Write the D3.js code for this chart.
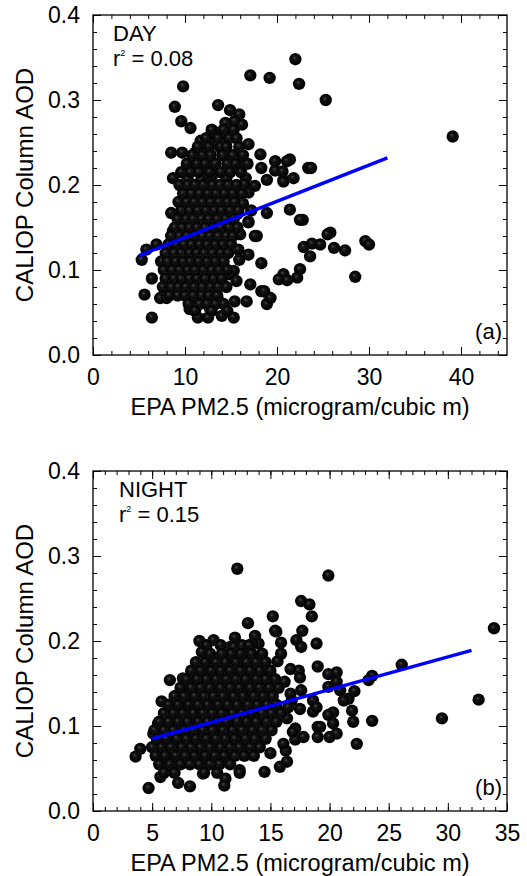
<!DOCTYPE html>
<meta charset="utf-8">
<body style="margin:0;background-color:white;">
<svg width="527" height="876"></svg>
<script src="https://d3js.org/d3.v7.min.js"></script>
<script>

// y ticks shared by both panels
var aodTicks = [0.0, 0.1, 0.2, 0.3, 0.4];
var dayPmTicks = [0, 10, 20, 30, 40];
var nightPmTicks = [0, 5, 10, 15, 20, 25, 30, 35];

// regression lines [pm, aod] at the two ends
var dayFit = [[5.0, 0.117], [32.0, 0.232]];
var nightFit = [[5.0, 0.085], [32.0, 0.189]];

var dayR2 = "0.08";
var nightR2 = "0.15";

// DAY points [pm2.5, aod]  -- outliers and edges
var dayOuter = [
 [22.0,0.348],[17.1,0.329],[19.2,0.326],[22.4,0.319],[9.8,0.316],[8.9,0.292],[13.6,0.294],[14.9,0.288],[15.9,0.283],
 [9.6,0.275],[10.6,0.267],[14.4,0.273],[15.4,0.275],[16.2,0.271],[13.1,0.263],[11.7,0.252],[13.5,0.257],[14.9,0.259],
 [8.5,0.238],[9.7,0.238],[11.1,0.238],[11.3,0.224],[12.7,0.248],[13.8,0.244],[16.9,0.248],[18.2,0.236],[19.8,0.228],
 [21.4,0.230],[12.6,0.226],[16.0,0.222],[18.3,0.220],[19.8,0.217],[21.8,0.208],[8.7,0.208],[10.3,0.206],[11.8,0.206],
 [12.9,0.209],[14.5,0.208],[16.6,0.208],[18.9,0.206],[20.7,0.206],[16.9,0.191],[17.6,0.199],
 [39.1,0.257],[25.3,0.300],[23.4,0.220],[21.1,0.228],[23.7,0.220],[20.6,0.216],[20.7,0.204],[21.4,0.171],[22.8,0.159],
 [25.8,0.144],[25.5,0.142],[22.9,0.127],[23.8,0.131],[24.7,0.130],[26.2,0.126],[27.4,0.123],[23.6,0.116],[29.6,0.134],
 [30.0,0.130],[28.5,0.092],[20.7,0.095],[21.1,0.088],[22.2,0.091],[22.5,0.101],
 [5.3,0.112],[5.8,0.124],[6.9,0.130],[8.5,0.167],[8.7,0.146],[6.4,0.090],[5.6,0.071],[6.4,0.044],[7.4,0.110],[7.3,0.067],
 [8.0,0.067],[10.5,0.054],[11.4,0.044],[12.5,0.044],[14.0,0.046],[15.3,0.044],[12.0,0.067],[12.7,0.055],[13.6,0.065],
 [15.4,0.063],[16.7,0.063],[17.1,0.083],[18.3,0.075],[19.2,0.067],[18.9,0.060],[20.2,0.089],[15.6,0.087],[15.3,0.099],
 [14.8,0.095],[13.4,0.093],[18.3,0.108],[16.9,0.118],[16.9,0.157],[17.8,0.140],[18.9,0.167],[22.5,0.159],[17.6,0.140],
 [16.9,0.156],[8.4,0.130],[7.5,0.110],[18.6,0.075],[19.3,0.067],
 [16.3,0.178],[16.0,0.142],[15.9,0.112],[16.5,0.201],[15.8,0.124],[16.1,0.232],[15.7,0.166]
];

// DAY dense cluster
var dayCore = [
 [12.9,0.265],[14.2,0.265],[15.3,0.265],
 [12.3,0.255],[13.6,0.255],[14.8,0.255],[15.6,0.255],
 [11.4,0.245],[12.6,0.245],[13.9,0.245],[14.5,0.245],[15.9,0.245],
 [10.8,0.235],[11.9,0.235],[12.8,0.235],[14.1,0.235],[15.2,0.235],[16.3,0.235],
 [10.2,0.225],[11.3,0.225],[12.2,0.225],[13.3,0.225],[14.6,0.225],[15.5,0.225],[16.8,0.225],
 [9.6,0.215],[10.6,0.215],[11.5,0.215],[12.7,0.215],[13.9,0.215],[14.9,0.215],[16.1,0.215],
 [9.4,0.200],[10.3,0.200],[11.1,0.200],[12.0,0.200],[13.0,0.200],[13.8,0.200],[14.7,0.200],[15.6,0.200],
 [9.8,0.190],[10.7,0.190],[11.6,0.190],[12.5,0.190],[13.4,0.190],[14.3,0.190],[15.2,0.190],[16.2,0.190],
 [9.3,0.180],[10.2,0.180],[11.0,0.180],[11.9,0.180],[12.8,0.180],[13.7,0.180],[14.6,0.180],[15.4,0.180],
 [9.6,0.170],[10.5,0.170],[11.4,0.170],[12.3,0.170],[13.2,0.170],[14.0,0.170],[14.9,0.170],[15.8,0.170],[17.2,0.170],
 [9.2,0.160],[10.1,0.160],[10.9,0.160],[11.8,0.160],[12.6,0.160],[13.5,0.160],[14.4,0.160],[15.3,0.160],
 [8.9,0.150],[9.7,0.150],[10.5,0.150],[11.3,0.150],[12.2,0.150],[13.1,0.150],[13.9,0.150],[14.8,0.150],[15.7,0.150],
 [8.5,0.140],[9.4,0.140],[10.2,0.140],[11.0,0.140],[11.9,0.140],[12.7,0.140],[13.6,0.140],[14.5,0.140],[15.2,0.140],
 [8.2,0.130],[9.1,0.130],[9.9,0.130],[10.7,0.130],[11.6,0.130],[12.4,0.130],[13.3,0.130],[14.1,0.130],[15.0,0.130],
 [7.9,0.120],[8.8,0.120],[9.6,0.120],[10.5,0.120],[11.3,0.120],[12.1,0.120],[13.0,0.120],[13.9,0.120],[14.7,0.120],
 [8.1,0.110],[9.0,0.110],[9.8,0.110],[10.6,0.110],[11.5,0.110],[12.4,0.110],[13.3,0.110],[14.2,0.110],
 [7.7,0.100],[8.6,0.100],[9.4,0.100],[10.3,0.100],[11.1,0.100],[12.0,0.100],[12.9,0.100],[13.7,0.100],[14.6,0.100],
 [7.9,0.090],[8.8,0.090],[9.6,0.090],[10.5,0.090],[11.3,0.090],[12.2,0.090],[13.1,0.090],[14.0,0.090],
 [7.6,0.080],[8.5,0.080],[9.3,0.080],[10.1,0.080],[11.0,0.080],[11.9,0.080],[12.8,0.080],[13.6,0.080],[14.5,0.080],
 [8.3,0.070],[9.2,0.070],[10.0,0.070],[10.9,0.070],[11.8,0.070],[12.6,0.070],[13.5,0.070],
 [10.4,0.060],[11.6,0.060],[12.4,0.060],[13.3,0.060],[14.2,0.060],
 [11.1,0.052],[12.9,0.052],[14.6,0.052]
];

// NIGHT points -- outliers and edges
var nightOuter = [
 [12.2,0.285],[19.9,0.277],[33.9,0.215],[17.6,0.247],[18.3,0.243],[18.5,0.229],[15.2,0.229],[13.1,0.221],[17.7,0.212],
 [15.5,0.211],[12.0,0.204],[13.7,0.206],[9.0,0.200],[10.2,0.201],[11.6,0.193],[15.9,0.198],[17.2,0.201],[18.9,0.197],
 [14.0,0.197],[17.6,0.193],[19.0,0.170],[17.4,0.165],[26.1,0.172],[19.9,0.161],[20.6,0.163],[20.6,0.152],[23.6,0.159],
 [23.3,0.154],[22.1,0.141],[21.6,0.132],[21.9,0.118],[22.0,0.105],[23.6,0.106],[22.3,0.079],[29.5,0.109],[32.6,0.131],
 [20.3,0.116],[20.3,0.103],[20.6,0.091],[20.0,0.087],[19.0,0.099],[19.0,0.087],[17.8,0.087],[17.1,0.097],[17.1,0.084],
 [21.2,0.130],[20.9,0.142],[19.9,0.146],[18.6,0.130],[17.6,0.142],[17.5,0.120],[18.6,0.117],[16.8,0.130],[17.5,0.157],
 [9.2,0.187],[11.9,0.193],[15.9,0.185],[16.7,0.167],[6.5,0.154],[7.6,0.156],[7.4,0.140],[5.8,0.129],[6.8,0.116],
 [5.5,0.103],[5.1,0.091],[4.0,0.073],[3.6,0.064],[4.7,0.027],[5.7,0.040],[7.2,0.033],[8.2,0.029],[6.5,0.048],[9.3,0.044],
 [11.2,0.038],[11.1,0.030],[12.4,0.048],[14.5,0.046],[15.8,0.052],[16.4,0.058],[15.0,0.068],[16.3,0.071],[19.2,0.099],
 [19.9,0.113],[18.9,0.122],[16.7,0.138],[16.9,0.093],[16.1,0.079],[6.3,0.052],[13.5,0.197],[15.4,0.212],
 [16.4,0.109],[16.2,0.152],[15.6,0.176],[16.5,0.122]
];

// NIGHT dense cluster
var nightCore = [
 [9.6,0.195],[10.8,0.195],[12.6,0.195],[13.2,0.195],
 [9.9,0.185],[10.9,0.185],[11.7,0.185],[12.5,0.185],[13.4,0.185],[14.3,0.185],
 [8.7,0.175],[9.5,0.175],[10.4,0.175],[11.2,0.175],[12.1,0.175],[13.0,0.175],[13.8,0.175],[14.6,0.175],
 [8.3,0.165],[9.1,0.165],[10.0,0.165],[10.8,0.165],[11.6,0.165],[12.5,0.165],[13.3,0.165],[14.1,0.165],[15.0,0.165],
 [7.9,0.155],[8.8,0.155],[9.6,0.155],[10.4,0.155],[11.3,0.155],[12.1,0.155],[12.9,0.155],[13.8,0.155],[14.6,0.155],[15.4,0.155],
 [7.4,0.145],[8.3,0.145],[9.1,0.145],[9.9,0.145],[10.8,0.145],[11.6,0.145],[12.4,0.145],[13.3,0.145],[14.1,0.145],[14.9,0.145],[15.7,0.145],
 [6.9,0.135],[7.7,0.135],[8.6,0.135],[9.4,0.135],[10.2,0.135],[11.0,0.135],[11.9,0.135],[12.7,0.135],[13.6,0.135],[14.4,0.135],[15.2,0.135],
 [6.4,0.125],[7.2,0.125],[8.1,0.125],[8.9,0.125],[9.7,0.125],[10.6,0.125],[11.4,0.125],[12.2,0.125],[13.1,0.125],[13.9,0.125],[14.7,0.125],[15.5,0.125],
 [6.0,0.115],[6.8,0.115],[7.6,0.115],[8.5,0.115],[9.3,0.115],[10.1,0.115],[10.9,0.115],[11.8,0.115],[12.6,0.115],[13.4,0.115],[14.3,0.115],[15.1,0.115],[15.9,0.115],
 [5.6,0.105],[6.4,0.105],[7.2,0.105],[8.0,0.105],[8.9,0.105],[9.7,0.105],[10.5,0.105],[11.3,0.105],[12.2,0.105],[13.0,0.105],[13.8,0.105],[14.7,0.105],[15.5,0.105],
 [5.2,0.095],[6.0,0.095],[6.8,0.095],[7.7,0.095],[8.5,0.095],[9.3,0.095],[10.1,0.095],[11.0,0.095],[11.8,0.095],[12.6,0.095],[13.5,0.095],[14.3,0.095],[15.1,0.095],
 [5.4,0.085],[6.2,0.085],[7.1,0.085],[7.9,0.085],[8.7,0.085],[9.6,0.085],[10.4,0.085],[11.2,0.085],[12.0,0.085],[12.9,0.085],[13.7,0.085],[14.6,0.085],
 [5.0,0.075],[5.8,0.075],[6.6,0.075],[7.5,0.075],[8.3,0.075],[9.1,0.075],[9.9,0.075],[10.8,0.075],[11.6,0.075],[12.4,0.075],[13.3,0.075],[14.1,0.075],
 [5.3,0.065],[6.1,0.065],[7.0,0.065],[7.8,0.065],[8.6,0.065],[9.5,0.065],[10.3,0.065],[11.1,0.065],[12.0,0.065],[12.8,0.065],[13.6,0.065],
 [5.6,0.055],[6.5,0.055],[7.4,0.055],[8.2,0.055],[9.0,0.055],[9.9,0.055],[10.7,0.055],[11.6,0.055],
 [6.0,0.045],[6.9,0.045],[9.4,0.045],[10.5,0.045],[12.4,0.045]
];

var svg = d3.select("svg");
var font = "'Liberation Sans', Arial, Helvetica, sans-serif";

var defs = svg.append("defs");
var grad = defs.append("radialGradient").attr("id", "ball")
	.attr("cx", "50%").attr("cy", "50%").attr("r", "50%")
	.attr("fx", "40%").attr("fy", "36%");
grad.append("stop").attr("offset", "0%").attr("stop-color", "#4a4a4a");
grad.append("stop").attr("offset", "30%").attr("stop-color", "#141414");
grad.append("stop").attr("offset", "90%").attr("stop-color", "#000");
grad.append("stop").attr("offset", "100%").attr("stop-color", "#2a2a2a");

var panels = [
	{pts: dayOuter.concat(dayCore), fit: dayFit, xMax: 45, xTicks: dayPmTicks, xMinor: 2,
	 name: "DAY", r2: dayR2, tag: "(a)", top: 15, bottom: 355, nameX: 113},
	{pts: nightOuter.concat(nightCore), fit: nightFit, xMax: 35, xTicks: nightPmTicks, xMinor: 1,
	 name: "NIGHT", r2: nightR2, tag: "(b)", top: 471, bottom: 811, nameX: 119}
];

var left = 93, right = 507;

panels.forEach(function(p) {
	var x = d3.scaleLinear().domain([0, p.xMax]).range([left, right]);
	var y = d3.scaleLinear().domain([0, 0.4]).range([p.bottom, p.top]);
	var g = svg.append("g");

	// points
	g.append("g").selectAll("circle").data(p.pts).enter().append("circle")
		.attr("cx", function(d) { return x(d[0]); })
		.attr("cy", function(d) { return y(d[1]); })
		.attr("r", 6.2)
		.attr("fill", "url(#ball)");

	// fit line
	g.append("line")
		.attr("x1", x(p.fit[0][0])).attr("y1", y(p.fit[0][1]))
		.attr("x2", x(p.fit[1][0])).attr("y2", y(p.fit[1][1]))
		.attr("stroke", "#0000ff").attr("stroke-width", 3.5);

	// axes: major + minor ticks on all four sides, pointing inward
	var xMinorTicks = d3.range(0, p.xMax + 0.001, p.xMinor);
	var yMinorTicks = d3.range(0, 0.4001, 0.02);

	function style(sel) {
		sel.select(".domain").remove();
		sel.selectAll("line").attr("stroke", "#000").attr("stroke-width", 1);
		sel.selectAll("text").style("font-family", font).style("font-size", "23px").attr("fill", "#000");
	}

	g.append("g").attr("transform", "translate(0," + p.bottom + ")")
		.call(d3.axisBottom(x).tickValues(xMinorTicks).tickSize(-4).tickFormat(""))
		.call(style);
	g.append("g").attr("transform", "translate(0," + p.bottom + ")")
		.call(d3.axisBottom(x).tickValues(p.xTicks).tickSize(-8).tickPadding(14).tickFormat(d3.format("d")))
		.call(style);
	g.append("g").attr("transform", "translate(0," + p.top + ")")
		.call(d3.axisTop(x).tickValues(xMinorTicks).tickSize(-4).tickFormat(""))
		.call(style);
	g.append("g").attr("transform", "translate(0," + p.top + ")")
		.call(d3.axisTop(x).tickValues(p.xTicks).tickSize(-8).tickFormat(""))
		.call(style);

	g.append("g").attr("transform", "translate(" + left + ",0)")
		.call(d3.axisLeft(y).tickValues(yMinorTicks).tickSize(-4).tickFormat(""))
		.call(style);
	g.append("g").attr("transform", "translate(" + left + ",0)")
		.call(d3.axisLeft(y).tickValues(aodTicks).tickSize(-8).tickPadding(13).tickFormat(d3.format(".1f")))
		.call(style);
	g.append("g").attr("transform", "translate(" + right + ",0)")
		.call(d3.axisRight(y).tickValues(yMinorTicks).tickSize(-4).tickFormat(""))
		.call(style);
	g.append("g").attr("transform", "translate(" + right + ",0)")
		.call(d3.axisRight(y).tickValues(aodTicks).tickSize(-8).tickFormat(""))
		.call(style);

	// frame
	g.append("rect")
		.attr("x", left).attr("y", p.top)
		.attr("width", right - left).attr("height", p.bottom - p.top)
		.attr("fill", "none").attr("stroke", "#000").attr("stroke-width", 1.3);

	// axis titles
	g.append("text")
		.attr("x", (left + right) / 2).attr("y", p.bottom + 60)
		.attr("text-anchor", "middle")
		.style("font-family", font).style("font-size", "23.5px")
		.text("EPA PM2.5 (microgram/cubic m)");
	g.append("text")
		.attr("transform", "translate(33," + (p.top + p.bottom) / 2 + ")rotate(-90)")
		.attr("text-anchor", "middle")
		.style("font-family", font).style("font-size", "24px")
		.text("CALIOP Column AOD");

	// in-panel labels
	g.append("text").attr("x", p.nameX).attr("y", p.top + 26)
		.style("font-family", font).style("font-size", "22px")
		.text(p.name);
	var r2 = g.append("text").attr("x", p.nameX).attr("y", p.top + 51)
		.style("font-family", font).style("font-size", "22px");
	r2.append("tspan").text("r");
	r2.append("tspan").attr("dy", -10).style("font-size", "9px").text("2");
	r2.append("tspan").attr("dy", 10).text(" = " + p.r2);

	g.append("text").attr("x", right - 5).attr("y", p.bottom - 16)
		.attr("text-anchor", "end")
		.style("font-family", font).style("font-size", "22px")
		.text(p.tag);
});

</script>
</body>
